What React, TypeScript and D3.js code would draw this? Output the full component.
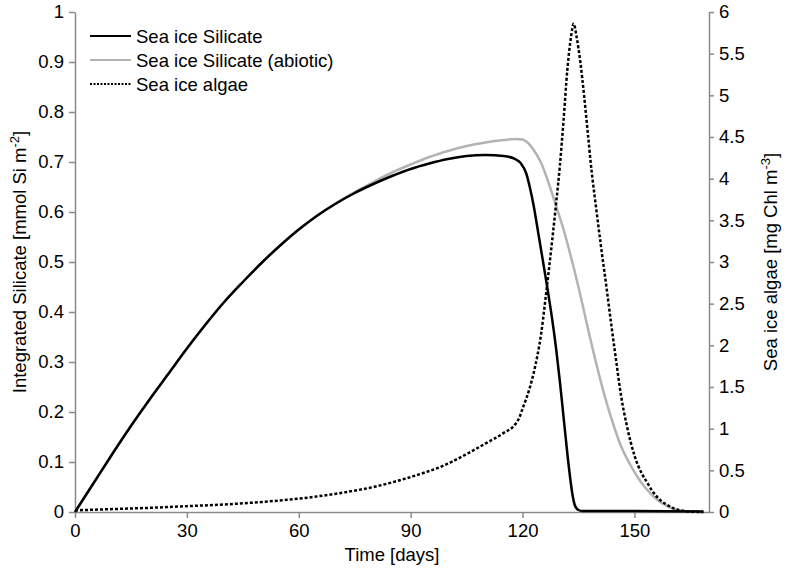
import * as d3 from "d3";
import { useEffect, useRef } from "react";

const W = 787;
const H = 577;
const margin = { top: 12, right: 78, bottom: 65, left: 75 };

// x ticks / y ticks
const dayTicks = [0, 30, 60, 90, 120, 150];
const silicateTicks = [0, 0.1, 0.2, 0.3, 0.4, 0.5, 0.6, 0.7, 0.8, 0.9, 1];
const algaeTicks = [0, 0.5, 1, 1.5, 2, 2.5, 3, 3.5, 4, 4.5, 5, 5.5, 6];

// Sea ice Silicate
const silicateDays = [0, 5, 10, 15, 20, 25, 30, 35, 40, 45, 50, 55, 60, 65, 70, 75, 80, 85, 90, 95, 100, 105, 110, 115, 118, 119.5, 121, 122, 123, 124, 125, 126, 127, 128, 129, 130, 131, 132, 133, 133.5, 134, 134.5, 135, 136, 150, 168.5];
const silicateValues = [0, 0.058, 0.116, 0.172, 0.225, 0.276, 0.327, 0.375, 0.42, 0.46, 0.498, 0.533, 0.565, 0.593, 0.617, 0.638, 0.656, 0.672, 0.686, 0.697, 0.706, 0.712, 0.714, 0.712, 0.706, 0.698, 0.677, 0.648, 0.612, 0.568, 0.523, 0.478, 0.432, 0.383, 0.327, 0.262, 0.19, 0.118, 0.055, 0.03, 0.014, 0.007, 0.004, 0.002, 0.002, 0.001];

// Sea ice Silicate (abiotic)
const abioticDays = [0, 5, 10, 15, 20, 25, 30, 35, 40, 45, 50, 55, 60, 65, 70, 75, 80, 85, 90, 95, 100, 105, 110, 115, 118, 120, 121.5, 123, 125, 127, 129, 131, 133, 135, 137.5, 140, 142, 144, 146.4, 149, 151, 153, 155.3, 157.5, 160, 162, 165, 168.5];
const abioticValues = [0, 0.058, 0.116, 0.172, 0.225, 0.276, 0.327, 0.375, 0.42, 0.46, 0.498, 0.533, 0.565, 0.593, 0.618, 0.64, 0.66, 0.679, 0.695, 0.71, 0.722, 0.732, 0.739, 0.744, 0.746, 0.745, 0.738, 0.724, 0.698, 0.658, 0.612, 0.565, 0.51, 0.45, 0.368, 0.29, 0.233, 0.183, 0.132, 0.093, 0.068, 0.048, 0.03, 0.017, 0.008, 0.003, 0.001, 0];

// Sea ice algae (right axis)
const algaeDays = [0, 10, 20, 30, 40, 50, 60, 70, 80, 90, 100, 106, 110, 115, 118, 119, 120, 121, 122, 123, 124, 125, 126, 127, 128, 129, 130, 131, 132, 133, 133.7, 134.5, 135.5, 136.5, 137.5, 138.5, 139.7, 141, 142.5, 144, 145, 146.4, 148, 150, 152, 153.6, 155, 157, 159, 160.7, 163, 165, 168.5];
const algaeValues = [0.02, 0.035, 0.05, 0.07, 0.09, 0.12, 0.16, 0.22, 0.3, 0.42, 0.58, 0.72, 0.82, 0.95, 1.05, 1.12, 1.24, 1.36, 1.5, 1.67, 1.88, 2.14, 2.5, 2.88, 3.28, 3.7, 4.15, 4.7, 5.3, 5.7, 5.86, 5.7, 5.4, 5.0, 4.55, 4.1, 3.66, 3.2, 2.7, 2.18, 1.85, 1.4, 1.03, 0.68, 0.46, 0.34, 0.24, 0.14, 0.08, 0.04, 0.015, 0.005, 0];

const font = "'Liberation Sans', Arial, Helvetica, sans-serif";
const axisColor = "#8a8a8a";

export default function App() {
	const ref = useRef(null);

	useEffect(() => {
		const svg = d3.select(ref.current);
		svg.selectAll("*").remove();

		const x = d3.scaleLinear().domain([0, 170]).range([margin.left, W - margin.right]);
		const yL = d3.scaleLinear().domain([0, 1]).range([H - margin.bottom, margin.top]);
		const yR = d3.scaleLinear().domain([0, 6]).range([H - margin.bottom, margin.top]);

		const styleAxis = (g) => {
			g.selectAll("path").attr("stroke", axisColor).attr("stroke-width", 1.5);
			g.selectAll("line").attr("stroke", axisColor).attr("stroke-width", 1.5);
			g.selectAll("text").attr("fill", "#000").style("font-size", "18.5px").style("font-family", font);
		};

		svg.append("g")
			.attr("transform", `translate(0,${H - margin.bottom})`)
			.call(d3.axisBottom(x).tickValues(dayTicks).tickSize(6).tickSizeOuter(0).tickPadding(6).tickFormat(d => String(d)))
			.call(styleAxis);

		svg.append("g")
			.attr("transform", `translate(${margin.left},0)`)
			.call(d3.axisLeft(yL).tickValues(silicateTicks).tickSize(6).tickSizeOuter(0).tickPadding(5).tickFormat(d => String(d)))
			.call(styleAxis);

		svg.append("g")
			.attr("transform", `translate(${W - margin.right},0)`)
			.call(d3.axisRight(yR).tickValues(algaeTicks).tickSize(5).tickSizeOuter(0).tickPadding(5).tickFormat(d => String(d)))
			.call(styleAxis);

		const lineL = d3.line().x(d => x(d[0])).y(d => yL(d[1])).curve(d3.curveMonotoneX);
		const lineR = d3.line().x(d => x(d[0])).y(d => yR(d[1])).curve(d3.curveMonotoneX);

		svg.append("path")
			.attr("d", lineL(abioticDays.map((d, i) => [d, abioticValues[i]])))
			.attr("fill", "none").attr("stroke", "#b3b3b3").attr("stroke-width", 2.5);

		svg.append("path")
			.attr("d", lineL(silicateDays.map((d, i) => [d, silicateValues[i]])))
			.attr("fill", "none").attr("stroke", "#000").attr("stroke-width", 2.5);

		svg.append("path")
			.attr("d", lineR(algaeDays.map((d, i) => [d, algaeValues[i]])))
			.attr("fill", "none").attr("stroke", "#000").attr("stroke-width", 2.5)
			.attr("stroke-dasharray", "3,2");

		// legend
		const legend = [
			{ label: "Sea ice Silicate", color: "#000", dash: null },
			{ label: "Sea ice Silicate (abiotic)", color: "#b3b3b3", dash: null },
			{ label: "Sea ice algae", color: "#000", dash: "2,1.5" }
		];
		legend.forEach((item, i) => {
			const ly = 36 + i * 24;
			svg.append("line")
				.attr("x1", 90).attr("x2", 131).attr("y1", ly).attr("y2", ly)
				.attr("stroke", item.color).attr("stroke-width", 2)
				.attr("stroke-dasharray", item.dash);
			svg.append("text")
				.attr("x", 136).attr("y", ly + 6.5)
				.style("font-size", "18.5px").style("font-family", font)
				.text(item.label);
		});

		// axis titles
		svg.append("text")
			.attr("x", 392).attr("y", 561)
			.attr("text-anchor", "middle")
			.style("font-size", "18.5px").style("font-family", font)
			.text("Time [days]");

		const leftTitle = svg.append("text")
			.attr("transform", `translate(26,${(H - margin.bottom + margin.top) / 2}) rotate(-90)`)
			.attr("text-anchor", "middle")
			.style("font-size", "18.5px").style("font-family", font);
		leftTitle.append("tspan").text("Integrated Silicate [mmol Si m");
		leftTitle.append("tspan").attr("dy", -7).style("font-size", "13px").text("-2");
		leftTitle.append("tspan").attr("dy", 7).text("]");

		const rightTitle = svg.append("text")
			.attr("transform", `translate(777,${(H - margin.bottom + margin.top) / 2}) rotate(-90)`)
			.attr("text-anchor", "middle")
			.style("font-size", "18.5px").style("font-family", font);
		rightTitle.append("tspan").text("Sea ice algae [mg Chl m");
		rightTitle.append("tspan").attr("dy", -7).style("font-size", "13px").text("-3");
		rightTitle.append("tspan").attr("dy", 7).text("]");
	}, []);

	return (
		<svg ref={ref} width={W} height={H} style={{ position: "absolute", left: 0, top: 0, background: "#fff" }}></svg>
	);
}
